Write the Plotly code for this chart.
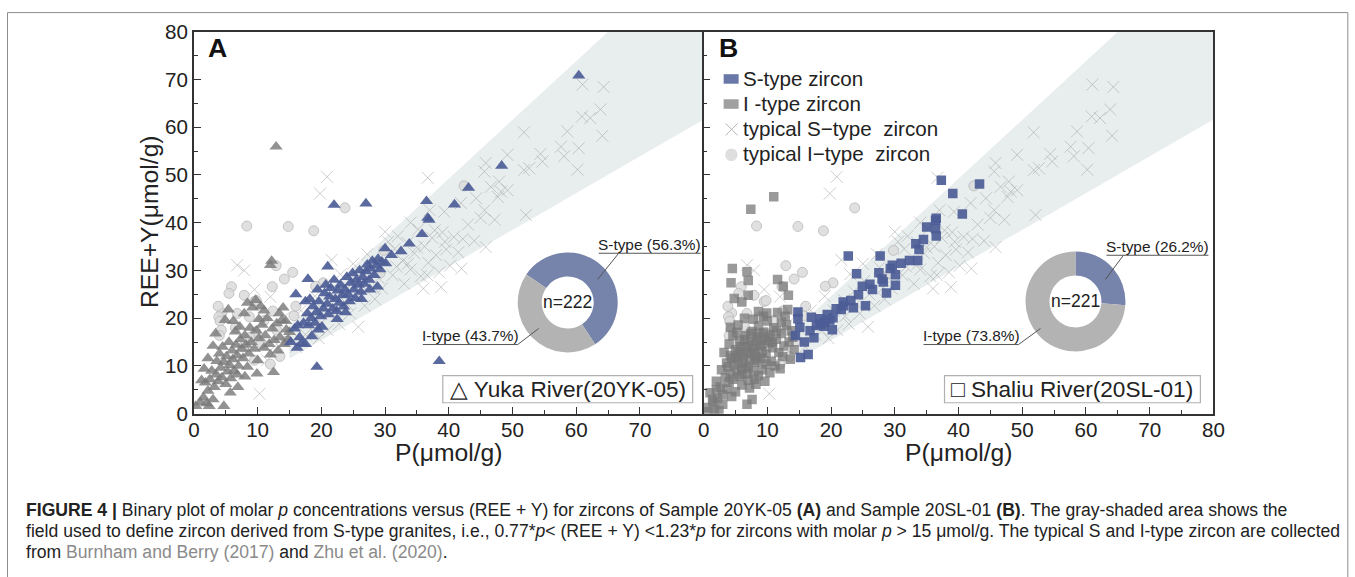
import plotly.graph_objects as go

# The page is photographed with a small fixed offset/scale; target positions below are given in
# window pixels of the reference and converted to figure-paper fractions.
SX, SY, OX, OY = 0.988, 0.958, 7.0, 12.5
FW, FH = 1360, 590

# ---------------- data ----------------
# Panel A (20YK-05) detrital zircons, S-type (blue triangles)
A_S_TYPE = [(60.4,70.8),(48.3,51.9),(43.1,47.3),(36.5,44.5),(40.9,43.8),(36.7,41.0),(36.9,40.6),
 (35.8,37.6),(38.5,11.0),(19.3,9.8),(22.0,43.7),(27.0,44.0),(16.0,25.0),(17.9,28.2),(21.0,30.8),
 (30.0,34.6),(15.2,15.0),(15.8,17.8),(16.3,18.5),(16.6,16.0),(16.9,14.8),(17.2,19.0),(17.5,23.5),
 (17.8,21.0),(18.0,18.5),(18.2,24.0),(18.4,20.0),(18.7,22.5),(19.0,19.0),(19.2,21.2),(19.4,26.0),
 (19.6,23.5),(19.9,20.4),(20.1,18.2),(20.3,22.0),(20.5,25.2),(20.7,27.0),(20.9,23.0),(21.1,20.8),
 (21.3,24.5),(21.5,26.3),(21.8,22.0),(22.0,28.0),(22.2,24.0),(22.4,21.5),(22.6,25.8),(22.8,23.2),
 (23.0,27.0),(23.3,24.8),(23.5,22.4),(23.7,26.0),(24.0,28.6),(24.2,25.0),(24.4,23.5),(24.6,27.4),
 (24.9,29.4),(25.1,26.0),(25.3,24.2),(25.5,28.0),(25.8,27.0),(26.0,30.0),(26.2,25.5),(26.5,28.6),
 (26.7,27.2),(27.0,29.8),(27.2,31.2),(27.5,28.0),(27.7,30.4),(28.0,32.0),(28.3,29.0),(28.6,31.0),
 (28.9,32.4),(29.2,30.2),(29.5,31.8),(30.1,31.5),(28.8,26.6),(27.6,26.0),(26.3,24.0),(23.8,21.2),
 (22.5,19.8),(19.5,17.6),(18.5,16.2),(17.5,14.6),(16.2,13.8),(31.0,33.2),(32.5,34.0),(33.8,35.6)]

# Panel A, I-type (grey triangles)
A_I_TYPE = [(12.9,55.9),(12.2,32.0),(12.0,31.1),(12.5,8.7),(0.3,1.6),(4.7,1.6),(1.0,2.4),(1.5,3.4),
 (2.0,2.2),(2.2,4.8),(1.8,6.5),(2.5,7.2),(1.2,7.0),(3.0,14.2),(2.8,9.0),(3.2,5.6),(3.5,8.2),
 (3.6,11.0),(3.8,6.8),(4.0,12.6),(4.2,9.6),(4.4,7.6),(4.5,14.0),(4.7,10.8),(4.9,19.6),(5.0,6.2),
 (5.1,12.0),(5.3,8.8),(5.5,15.0),(5.6,10.2),(5.8,7.4),(6.0,13.2),(6.1,11.4),(6.3,9.0),(6.5,17.2),
 (6.6,14.4),(6.8,12.2),(7.0,10.0),(7.2,18.2),(7.3,15.6),(7.5,13.6),(7.7,11.6),(8.0,16.4),(8.2,14.4),
 (8.4,9.8),(8.6,12.6),(8.8,18.0),(9.0,15.0),(9.2,22.2),(9.5,13.6),(9.7,23.8),(9.8,17.4),(10.0,11.2),
 (10.2,15.8),(10.5,22.5),(10.7,18.6),(11.0,13.8),(11.2,16.4),(11.5,20.0),(11.8,14.6),(12.0,12.4),
 (12.3,17.8),(12.6,15.4),(13.0,18.9),(13.2,13.2),(13.5,16.0),(13.8,19.6),(14.0,22.2),(14.2,14.6),
 (14.5,17.6),(14.8,15.6),(15.0,17.1),(5.7,4.4),(6.9,5.6),(3.0,3.0),(2.4,1.6),(8.0,7.8),(6.2,19.4),
 (7.9,21.0),(9.9,8.4),(3.4,16.8),(2.2,11.6),(1.6,9.4),(5.4,21.8),(8.4,23.2),(11.0,21.6),(13.4,21.0),
 (14.4,19.4),(10.2,19.8),(6.8,8.2)]

# Panel B (20SL-01), S-type (blue squares)
B_S_TYPE = [(40.6,41.8),(35.0,39.1),(36.4,40.5),(36.4,38.8),(36.5,37.2),(33.3,35.6),(33.8,34.4),
 (32.3,32.1),(33.6,32.1),(27.7,33.0),(29.6,31.1),(29.3,30.4),(30.1,29.1),(27.5,29.5),(28.0,28.2),
 (28.2,27.6),(28.7,25.3),(30.1,26.9),(22.7,33.0),(24.0,29.3),(24.9,26.7),(26.1,27.1),(24.3,24.9),
 (25.4,22.6),(21.9,23.4),(23.1,23.7),(23.5,22.2),(21.6,21.8),(20.8,22.0),(19.4,20.8),(20.3,20.1),
 (18.3,19.9),(19.0,19.2),(18.9,18.3),(17.7,18.5),(18.3,18.8),(20.2,17.6),(16.9,20.2),(16.7,17.4),
 (17.3,15.9),(14.8,21.3),(14.8,19.9),(15.1,18.1),(14.4,16.4),(15.8,15.0),(15.2,11.8),(16.4,12.4),
 (43.3,48.1),(37.3,48.9),(39.1,46.1),(36.5,40.9),(22.0,22.6),(19.8,19.6),(26.5,26.0),(31.0,31.5),
 (34.5,36.5)]

# Panel B, I-type (grey squares)
B_I_TYPE = [(11.0,45.4),(7.4,42.8),(4.5,30.4),(6.8,29.7),(7.0,27.9),(4.3,27.4),(7.0,24.8),(4.8,24.1),
 (11.6,28.1),(12.5,26.7),(13.3,24.8),(6.0,23.4),(13.2,21.8),(9.9,21.1),(12.2,19.2),(4.2,18.1),
 (0.3,1.3),(0.8,0.4),(1.5,2.4),(1.7,1.0),(2.2,3.2),(1.0,4.4),(2.6,5.6),(3.0,4.0),(2.0,6.8),(3.4,7.6),
 (2.8,9.2),(3.6,5.2),(4.0,6.6),(3.8,9.8),(4.2,8.4),(4.4,11.6),(4.6,7.2),(4.8,10.2),(5.0,13.4),
 (5.2,9.0),(5.4,11.0),(5.6,15.2),(5.8,12.4),(6.0,8.2),(6.2,10.6),(6.4,14.0),(6.6,16.4),(6.8,12.8),
 (7.0,9.6),(7.2,11.4),(7.4,15.0),(7.6,17.2),(7.8,13.6),(8.0,10.8),(8.2,12.0),(8.4,16.0),(8.6,18.4),
 (8.8,14.2),(9.0,11.6),(9.2,13.0),(9.4,17.0),(9.6,15.4),(9.8,12.6),(10.0,19.4),(10.2,14.8),
 (10.4,16.6),(10.6,11.0),(10.8,13.8),(11.0,18.0),(11.4,15.6),(11.8,12.8),(12.2,16.8),(12.6,14.2),
 (13.0,18.6),(13.4,15.0),(13.8,17.4),(14.2,13.4),(6.8,2.0),(5.0,4.6),(6.0,6.0),(7.2,5.4),(8.0,7.2),
 (7.6,3.0),(5.4,18.6),(6.4,20.0),(7.8,19.8),(8.6,21.4),(9.4,20.4),(3.2,12.8),(4.0,14.6),(4.6,16.4),
 (5.2,17.0),(6.2,12.0),(6.6,10.0),(7.0,14.4),(7.4,12.6),(8.2,15.2),(8.8,16.8),(9.2,9.2),(9.8,10.4),
 (10.4,8.6),(11.2,10.0),(12.0,9.4),(11.6,21.2),(12.8,20.4),(3.0,2.0),(2.4,0.6),(4.4,3.6),(5.6,7.8),
 (6.8,8.4),(7.8,9.0),(8.6,8.0),(9.6,6.8),(4.2,12.2),(5.0,11.8),(5.8,14.0),(6.4,15.6),(7.4,16.8),
 (8.0,13.0),(8.4,11.2),(9.0,14.6),(10.0,16.0),(10.8,15.0),(11.4,17.4),(12.4,12.0),(13.6,11.4),
 (14.0,16.0),(2.0,5.0),(1.4,3.0),(3.6,10.6),(5.4,13.0),(6.0,9.4),(7.0,7.0),(8.2,6.2)]

# Reference data (Burnham & Berry 2017; Zhu et al. 2020), shown in both panels
TYPICAL_S = [(61.0,68.9),(64.3,68.4),(60.9,62.2),(62.2,61.9),(63.8,63.7),(64.1,58.2),(51.8,58.9),
 (58.6,59.1),(60.4,55.6),(57.6,55.9),(54.4,54.4),(49.2,54.2),(54.7,52.8),(52.6,51.4),(51.8,51.0),
 (58.1,53.9),(60.2,51.1),(45.8,52.5),(45.6,50.7),(47.9,48.6),(46.6,47.5),(48.2,46.5),(49.2,46.8),
 (47.7,45.4),(44.3,45.1),(41.9,44.1),(45.6,42.6),(39.3,42.3),(52.1,41.6),(36.7,49.4),(20.9,49.6),
 (19.8,46.1),(45.0,41.0),(47.2,40.6),(38.8,26.5),(45.8,34.9),(30.0,38.1),(30.5,36.0),(31.5,34.5),
 (32.0,37.2),(32.8,32.0),(33.5,35.8),(34.0,30.2),(34.6,33.6),(35.2,38.6),(35.6,28.8),(36.2,35.0),
 (36.8,31.6),(37.4,36.8),(38.0,33.2),(38.5,29.6),(39.0,38.0),(39.6,34.4),(40.2,31.0),(40.8,37.0),
 (41.5,33.8),(42.2,36.6),(43.0,39.6),(33.0,27.2),(31.2,29.0),(29.5,26.2),(28.4,24.0),(27.6,30.6),
 (26.8,22.6),(25.8,18.2),(25.2,27.8),(24.5,21.0),(23.6,25.6),(22.8,18.8),(22.0,23.8),(21.6,32.2),
 (21.0,17.5),(20.4,21.6),(19.6,15.8),(19.0,24.6),(18.2,19.4),(17.5,16.6),(16.8,21.6),(16.0,14.0),
 (15.4,17.2),(14.2,20.2),(12.0,24.5),(9.5,26.0),(6.8,31.1),(7.9,30.0),(10.3,4.2),(11.5,11.2),
 (13.0,14.6),(27.2,33.4),(29.0,28.4),(36.0,26.2),(42.0,30.4),(44.0,36.2),(37.0,42.6),(34.0,40.0),
 (25.0,31.4),(23.0,29.2),(33.6,31.4),(35.0,34.8),(36.6,29.0),(37.8,38.4),(39.4,36.0),(31.8,30.8),
 (28.2,26.4),(26.0,25.0),(24.0,23.0),(22.2,20.4),(20.0,19.0),(18.6,17.4)]

TYPICAL_I = [(8.3,39.3),(14.8,39.2),(18.8,38.3),(23.7,43.1),(15.5,29.6),(14.2,28.2),(12.3,26.6),
 (5.9,26.6),(5.5,25.2),(7.9,24.8),(9.5,23.5),(4.4,21.1),(3.9,20.3),(4.1,19.4),(4.3,17.5),(4.0,16.4),
 (6.8,21.0),(8.7,20.3),(9.7,17.1),(12.4,21.5),(15.7,20.5),(13.0,17.5),(8.8,16.0),(7.7,14.0),
 (13.5,12.0),(9.5,11.2),(29.2,29.4),(42.4,47.7),(20.3,27.4),(19.1,26.7),(16.0,22.5),(12.9,31.0),
 (9.8,23.7),(29.8,34.2),(11.0,19.5),(10.6,14.8),(6.5,18.0),(14.5,15.2),(12.0,10.4),(3.8,22.5)]

# S-type field: 0.77*p < (REE+Y) < 1.23*p for p > 15
BAND_LOW, BAND_HIGH, P_MIN, P_MAX = 0.77, 1.23, 15, 80

DONUT_LABELS = ["S-type", "I-type"]
DONUT_A = [56.3, 43.7]
DONUT_B = [26.2, 73.8]
N_A, N_B = 222, 221

X_TICKS_A = [0, 10, 20, 30, 40, 50, 60, 70]
X_TICKS_B = [0, 10, 20, 30, 40, 50, 60, 70, 80]
Y_TICKS = [0, 10, 20, 30, 40, 50, 60, 70, 80]
MINOR_TICKS = [5, 15, 25, 35, 45, 55, 65, 75]

X_TITLE = "P(\u03bcmol/g)"
Y_TITLE = "REE+Y(\u03bcmol/g)"
LEGEND_NAMES = ["S-type zircon", "I -type zircon",
                "typical S\u2212type\u00a0 zircon", "typical I\u2212type\u00a0 zircon"]

# ---------------- helpers (reference window pixel -> paper fraction) ----------------
def px(x):
    return (x - OX) / SX / FW

def py(y):
    return 1 - (y - OY) / SY / FH

def fs(s):
    return round(s / ((SX + SY) / 2), 1)

def xs(pts):
    return [p[0] for p in pts]

def ys(pts):
    return [p[1] for p in pts]

FONT = "Liberation Sans, Arial, sans-serif"
BLUE = "rgba(76,92,150,0.92)"
GREY = "rgba(122,122,122,0.82)"
AXC = "#333333"

fig = go.Figure()

band_x = [P_MIN, P_MIN, P_MAX, P_MAX]
band_y = [BAND_LOW * P_MIN, BAND_HIGH * P_MIN, BAND_HIGH * P_MAX, BAND_LOW * P_MAX]

for xa, ya in (("x", "y"), ("x2", "y2")):
    fig.add_trace(go.Scatter(x=band_x, y=band_y, fill="toself", fillcolor="rgb(232,237,237)",
                             line=dict(width=0), mode="lines", hoverinfo="skip",
                             showlegend=False, xaxis=xa, yaxis=ya))
    fig.add_trace(go.Scatter(x=xs(TYPICAL_S), y=ys(TYPICAL_S), mode="markers", showlegend=False,
                             marker=dict(symbol="x-thin", size=12,
                                         line=dict(width=1, color="rgba(165,165,165,0.55)")),
                             xaxis=xa, yaxis=ya))
    fig.add_trace(go.Scatter(x=xs(TYPICAL_I), y=ys(TYPICAL_I), mode="markers", showlegend=False,
                             marker=dict(symbol="circle", size=10, color="rgba(218,218,218,0.85)",
                                         line=dict(width=1, color="rgba(185,185,185,0.8)")),
                             xaxis=xa, yaxis=ya))

fig.add_trace(go.Scatter(x=xs(A_I_TYPE), y=ys(A_I_TYPE), mode="markers", showlegend=False,
                         marker=dict(symbol="triangle-up", size=11.5, color=GREY, line=dict(width=0)),
                         xaxis="x", yaxis="y"))
fig.add_trace(go.Scatter(x=xs(A_S_TYPE), y=ys(A_S_TYPE), mode="markers", showlegend=False,
                         marker=dict(symbol="triangle-up", size=11.5, color=BLUE, line=dict(width=0)),
                         xaxis="x", yaxis="y"))
fig.add_trace(go.Scatter(x=xs(B_I_TYPE), y=ys(B_I_TYPE), mode="markers", showlegend=False,
                         marker=dict(symbol="square", size=9.5, color="rgba(120,120,120,0.75)",
                                     line=dict(width=0)),
                         xaxis="x2", yaxis="y2"))
fig.add_trace(go.Scatter(x=xs(B_S_TYPE), y=ys(B_S_TYPE), mode="markers", showlegend=False,
                         marker=dict(symbol="square", size=9.5, color=BLUE, line=dict(width=0)),
                         xaxis="x2", yaxis="y2"))

# donuts
PIE_COLORS = ["#7683aa", "#b3b3b3"]
for vals, cx, cy, rot in ((DONUT_A, 569, 302, -56), (DONUT_B, 1077, 301, 0)):
    r = 50
    fig.add_trace(go.Pie(values=vals, labels=DONUT_LABELS, hole=0.52, sort=False,
                         direction="clockwise", rotation=rot, textinfo="none",
                         marker=dict(colors=PIE_COLORS, line=dict(width=0)),
                         showlegend=False, hoverinfo="label+percent",
                         domain=dict(x=[px(cx - r), px(cx + r)], y=[py(cy + r), py(cy - r)])))

axis_common = dict(range=[0, 80], showline=True, linecolor=AXC, linewidth=1.5,
                   ticks="inside", ticklen=7, tickwidth=1.2, tickcolor=AXC,
                   showgrid=False, zeroline=False,
                   tickfont=dict(family=FONT, size=fs(20), color="#222"))

minor = dict(tickvals=MINOR_TICKS, ticks="inside", ticklen=4, tickcolor=AXC)

fig.update_layout(
    width=FW, height=FH, margin=dict(l=0, r=0, t=0, b=0), autosize=False,
    paper_bgcolor="white", plot_bgcolor="white", showlegend=False,
    xaxis=dict(domain=[px(195), px(705)], anchor="y", mirror=True, tickmode="array",
               tickvals=X_TICKS_A, minor=minor, ticklabelstandoff=-3, **axis_common),
    yaxis=dict(domain=[py(413), py(32)], anchor="x", mirror=False, tickmode="array",
               tickvals=Y_TICKS, minor=minor, **axis_common),
    xaxis2=dict(domain=[px(705), px(1215)], anchor="y2", mirror=True, tickmode="array",
                tickvals=X_TICKS_B, minor=minor, ticklabelstandoff=-3, **axis_common),
    yaxis2=dict(domain=[py(413), py(32)], anchor="x2", mirror=True, tickmode="array",
                tickvals=Y_TICKS, minor=minor, showticklabels=False, **axis_common),
)

shapes = []
ann = []
LC = "#555555"

def text_ann(text, x, y, size, xanchor="center", color="#222", family=FONT, angle=0):
    return dict(text=text, x=px(x), y=py(y), xref="paper", yref="paper", xanchor=xanchor,
                yanchor="middle", showarrow=False, textangle=angle,
                font=dict(family=family, size=fs(size), color=color))

# axis titles
ann.append(text_ann(X_TITLE, 450, 452, 24))
ann.append(text_ann(X_TITLE, 960, 452, 24))
ann.append(text_ann(Y_TITLE, 150, 221, 24, angle=-90))

# outer figure frame
shapes.append(dict(type="rect", xref="paper", yref="paper", x0=px(8.5), x1=px(1349.5),
                   y0=-0.05, y1=py(OY + 0.6), line=dict(color="#8c8c8c", width=1)))

# panel letters
ann.append(text_ann("<b>A</b>", 219, 48, 26, color="#111"))
ann.append(text_ann("<b>B</b>", 730, 48, 26, color="#111"))

# legend (panel B)
leg_rows = [79, 104, 129, 154]
shapes.append(dict(type="rect", xref="paper", yref="paper", x0=px(725), x1=px(740),
                   y0=py(84), y1=py(74.5), line=dict(width=0), fillcolor="#6a78a8"))
shapes.append(dict(type="rect", xref="paper", yref="paper", x0=px(725), x1=px(740),
                   y0=py(109), y1=py(99.5), line=dict(width=0), fillcolor="#a0a0a0"))
for (ax0, ay0, ax1, ay1) in ((727, 123.5, 739, 135.5), (727, 135.5, 739, 123.5)):
    shapes.append(dict(type="line", xref="paper", yref="paper", x0=px(ax0), x1=px(ax1),
                       y0=py(ay0), y1=py(ay1), line=dict(color="#b5b5b5", width=1)))
shapes.append(dict(type="circle", xref="paper", yref="paper", x0=px(726.5), x1=px(739),
                   y0=py(161), y1=py(148.5), line=dict(width=0), fillcolor="#dedede"))
for name, ry in zip(LEGEND_NAMES, leg_rows):
    ann.append(text_ann(name, 742, ry, 20, xanchor="left"))

# donut centre labels and callouts
for n, cx, cy in ((N_A, 569, 302), (N_B, 1077, 301)):
    ann.append(text_ann(f"n={n}", cx, cy, 17))

callouts = [
    # text, text x0, x1, underline y, leader end (x, y), leader start x
    (f"S-type ({DONUT_A[0]}%)", 600, 702, 253, (599, 279), 620),
    (f"I-type ({DONUT_A[1]}%)", 424, 519, 344, (540, 328), 519),
    (f"S-type ({DONUT_B[0]}%)", 1108, 1210, 255, (1107, 279), 1125),
    (f"I-type ({DONUT_B[1]}%)", 925, 1020, 344, (1042, 328), 1020),
]
for text, x0, x1, uy, (ex, ey), sx in callouts:
    ann.append(text_ann(text, (x0 + x1) / 2, uy - 9, 15))
    shapes.append(dict(type="line", xref="paper", yref="paper", x0=px(x0), x1=px(x1),
                       y0=py(uy), y1=py(uy), line=dict(color=LC, width=1)))
    shapes.append(dict(type="line", xref="paper", yref="paper", x0=px(sx), x1=px(ex),
                       y0=py(uy), y1=py(ey), line=dict(color=LC, width=1)))

# sample boxes
for text, x0, x1 in (("\u25b3 Yuka River(20YK-05)", 444, 694), ("\u25a1 Shaliu River(20SL-01)", 946, 1202)):
    shapes.append(dict(type="rect", xref="paper", yref="paper", x0=px(x0), x1=px(x1),
                       y0=py(402), y1=py(375), line=dict(color="#b0b0b0", width=1.2),
                       fillcolor="white"))
    ann.append(text_ann(text, (x0 + x1) / 2, 388.5, 22))

# caption
CAP_FAMILY = "Liberation Sans, Arial"
GREYTXT = "<span style='color:#8a8a8a'>{}</span>"
caption = [
    "<b>FIGURE 4 |</b> Binary plot of molar <i>p</i> concentrations versus (REE + Y) for zircons of "
    "Sample 20YK-05 <b>(A)</b> and Sample 20SL-01 <b>(B)</b>. The gray-shaded area shows the",
    "field used to define zircon derived from S-type granites, i.e., 0.77*<i>p</i>&lt; (REE + Y) &lt;1.23*<i>p</i> "
    "for zircons with molar <i>p</i> &gt; 15 \u03bcmol/g. The typical S and I-type zircon are collected",
    "from " + GREYTXT.format("Burnham and Berry (2017)") + " and " + GREYTXT.format("Zhu et al. (2020)") + ".",
]
for i, line in enumerate(caption):
    ann.append(text_ann(line, 25, 509 + 21 * i, 17.1, xanchor="left", family=CAP_FAMILY))

fig.update_layout(shapes=shapes, annotations=ann)

fig.write_html("out.html")
